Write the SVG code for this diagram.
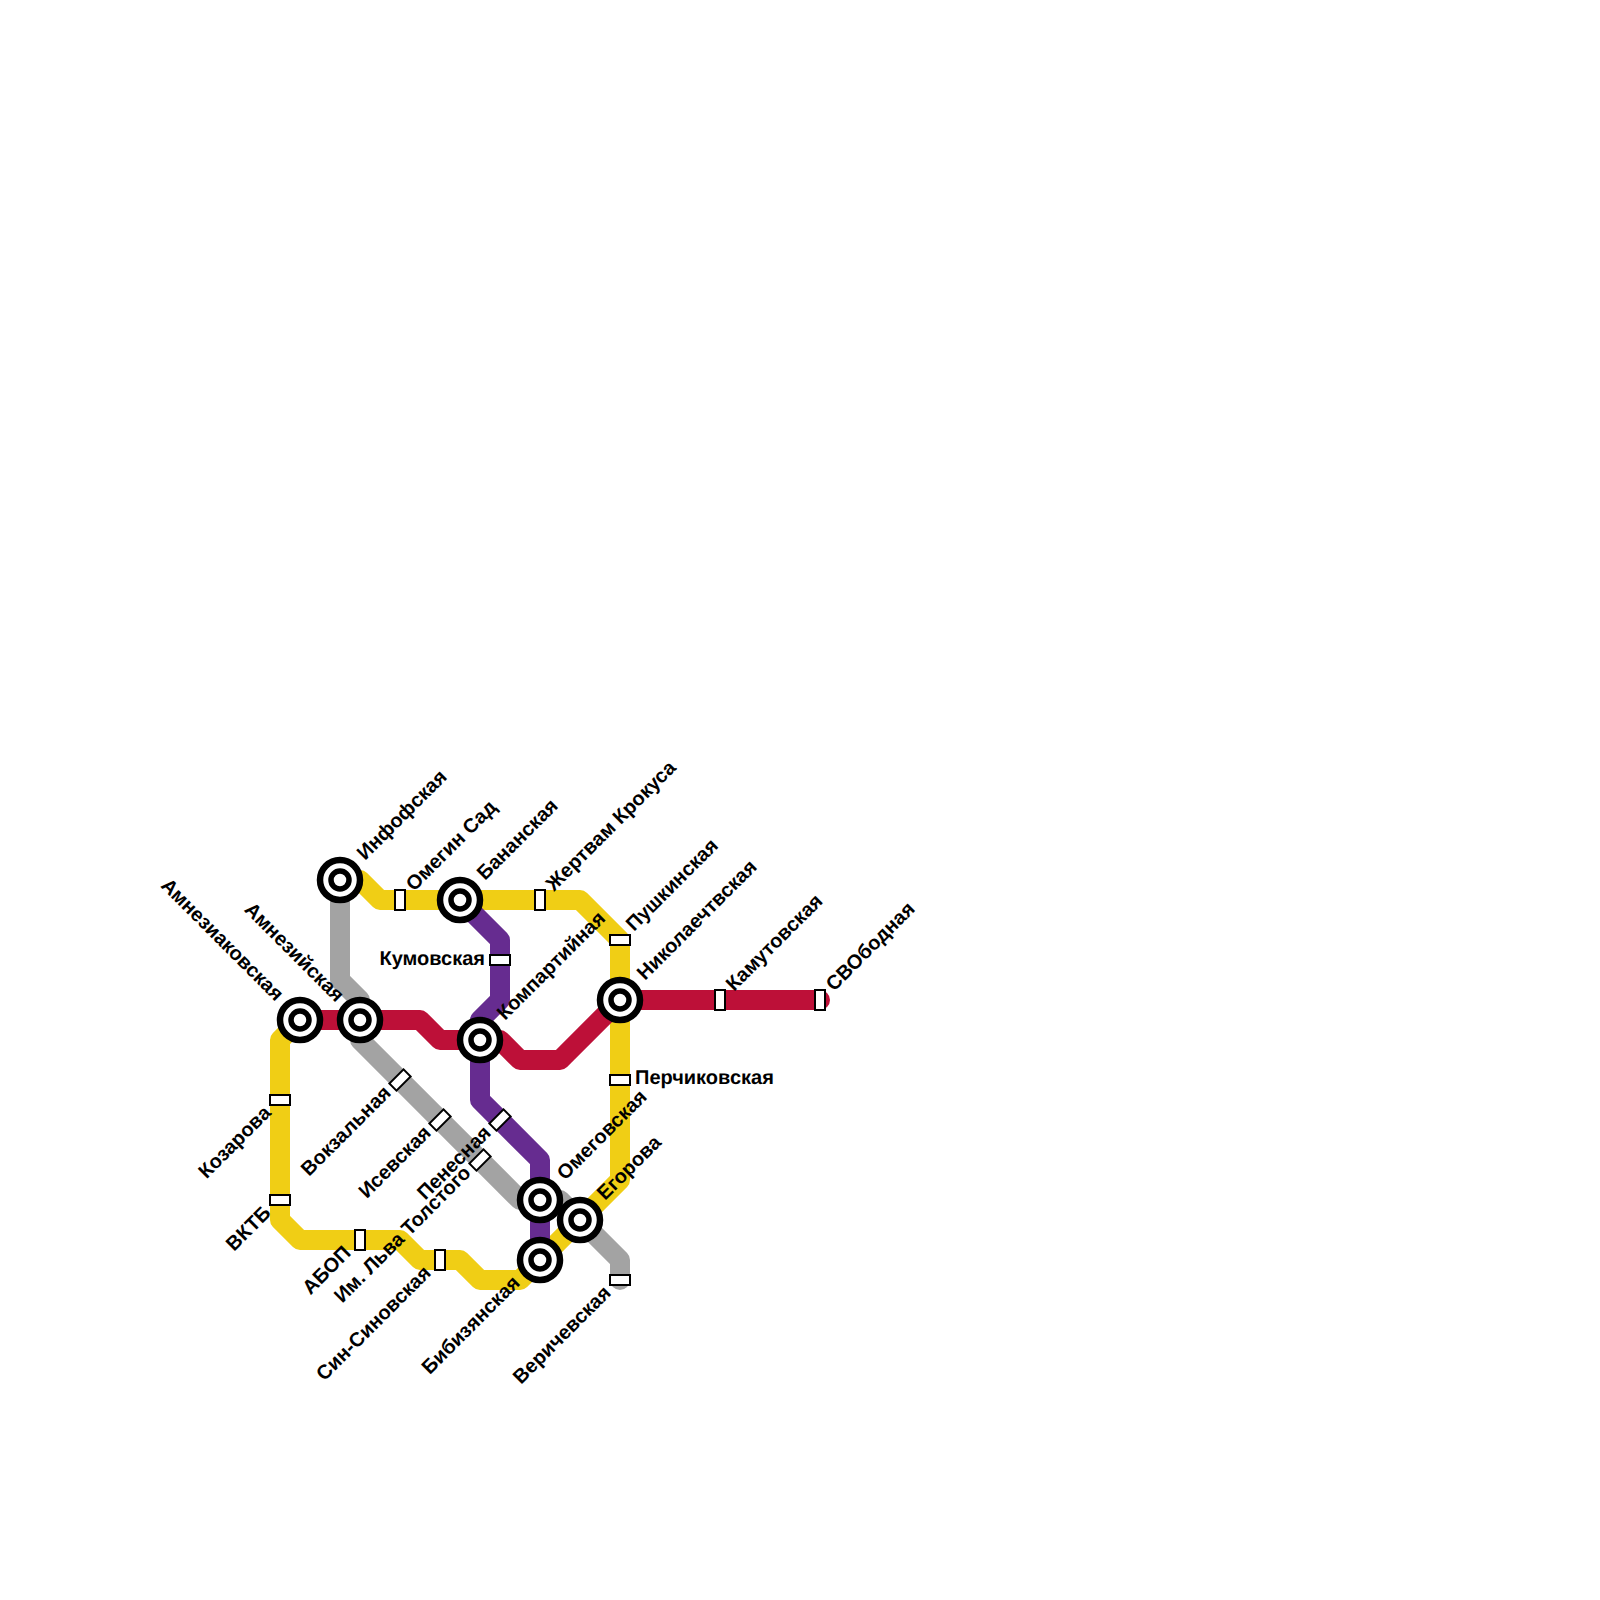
<svg xmlns="http://www.w3.org/2000/svg" width="1600" height="1600" viewBox="0 0 1600 1600">
<style>
.l{fill:none;stroke-width:20;stroke-linecap:round;stroke-linejoin:round}
.s{fill:#fff;stroke:#000;stroke-width:2}
.o{fill:#fff;stroke:#000;stroke-width:6.5}
.i{fill:#fff;stroke:#000;stroke-width:5.5}
text{font-family:"Liberation Sans",Arial,sans-serif;font-weight:700;font-size:20px;fill:#000;text-rendering:geometricPrecision}
.e{text-anchor:end}
</style>
<defs>
<g id="int"><circle class="o" r="20"/><circle class="i" r="9"/></g>
<rect id="st" class="s" x="-10" y="-5" width="20" height="10"/>
</defs>
<rect width="1600" height="1600" fill="#fff"/>
<g id="connectors">
<path class="l" stroke="#a3a3a3" d="M340 880V980L360 1000V1040L520 1200H560L620 1260V1280"/>
<path class="l" stroke="#f0ce15" d="M340 880H360L380 900H580L620 940V1180L520 1280H480L460 1260H420L400 1240H300L280 1220V1040L300 1020"/>
<path class="l" stroke="#bd1038" d="M300 1020H420L440 1040H500L520 1060H560L620 1000H820"/>
<path class="l" stroke="#662c90" d="M460 900L500 940V1000L480 1020V1100L540 1160V1260"/>
</g>
<g id="n-infofskaya"><use href="#int" x="340" y="880"/><text transform="translate(365 861) rotate(-45)">Инфофская</text></g>
<g id="n-omegin"><use href="#st" transform="translate(400 900) rotate(90)"/><text transform="translate(414 892) rotate(-45)">Омегин Сад</text></g>
<g id="n-bananskaya"><use href="#int" x="460" y="900"/><text transform="translate(485 881) rotate(-45)">Бананская</text></g>
<g id="n-krokus"><use href="#st" transform="translate(540 900) rotate(90)"/><text transform="translate(554 892) rotate(-45)">Жертвам Крокуса</text></g>
<g id="n-pushkinskaya"><use href="#st" x="620" y="940"/><text transform="translate(634 932) rotate(-45)">Пушкинская</text></g>
<g id="n-nikolaevskaya"><use href="#int" x="620" y="1000"/><text transform="translate(645 981) rotate(-45)">Николаечтвская</text></g>
<g id="n-kamutovskaya"><use href="#st" transform="translate(720 1000) rotate(90)"/><text transform="translate(734 992) rotate(-45)">Камутовская</text></g>
<g id="n-svobodnaya"><use href="#st" transform="translate(820 1000) rotate(90)"/><text transform="translate(834 992) rotate(-45)">СВОбодная</text></g>
<g id="n-kumovskaya"><use href="#st" x="500" y="960"/><text class="e" x="485" y="964.5">Кумовская</text></g>
<g id="n-kompartiynaya"><use href="#int" x="480" y="1040"/><text transform="translate(505 1021) rotate(-45)">Компартийная</text></g>
<g id="n-perchikovskaya"><use href="#st" x="620" y="1080"/><text x="635" y="1084">Перчиковская</text></g>
<g id="n-omegovskaya"><use href="#int" x="540" y="1200"/><text transform="translate(565 1181) rotate(-45)">Омеговская</text></g>
<g id="n-egorova"><use href="#int" x="580" y="1220"/><text transform="translate(605 1201) rotate(-45)">Егорова</text></g>
<g id="n-amneziakovskaya"><use href="#int" x="300" y="1020"/><text class="e" transform="translate(275.5 1002) rotate(45)">Амнезиаковская</text></g>
<g id="n-amneziyskaya"><use href="#int" x="360" y="1020"/><text class="e" transform="translate(336 1003) rotate(45)">Амнезийская</text></g>
<g id="n-kozarova"><use href="#st" x="280" y="1100"/><text class="e" transform="translate(272 1114) rotate(-45)">Козарова</text></g>
<g id="n-vktb"><use href="#st" x="280" y="1200"/><text class="e" transform="translate(272 1214) rotate(-45)">ВКТБ</text></g>
<g id="n-abop"><use href="#st" transform="translate(360 1240) rotate(90)"/><text class="e" transform="translate(352 1254) rotate(-45)">АБОП</text></g>
<g id="n-sin"><use href="#st" transform="translate(440 1260) rotate(90)"/><text class="e" transform="translate(432 1274) rotate(-45)">Син-Синовская</text></g>
<g id="n-bibizyanskaya"><use href="#int" x="540" y="1260"/><text class="e" transform="translate(521 1284) rotate(-45)">Бибизянская</text></g>
<g id="n-verichevskaya"><use href="#st" x="620" y="1280"/><text class="e" transform="translate(612 1294) rotate(-45)">Веричевская</text></g>
<g id="n-vokzalnaya"><use href="#st" transform="translate(400 1080) rotate(-45)"/><text class="e" transform="translate(392 1094) rotate(-45)">Вокзальная</text></g>
<g id="n-isevskaya"><use href="#st" transform="translate(440 1120) rotate(-45)"/><text class="e" transform="translate(432 1134) rotate(-45)">Исевская</text></g>
<g id="n-tolstogo"><use href="#st" transform="translate(480 1160) rotate(-45)"/><text class="e" transform="translate(472 1174) rotate(-45)">Им. Льва Толстого</text></g>
<g id="n-penesnaya"><use href="#st" transform="translate(500 1120) rotate(-45)"/><text class="e" transform="translate(492 1134) rotate(-45)">Пенесная</text></g>
</svg>
